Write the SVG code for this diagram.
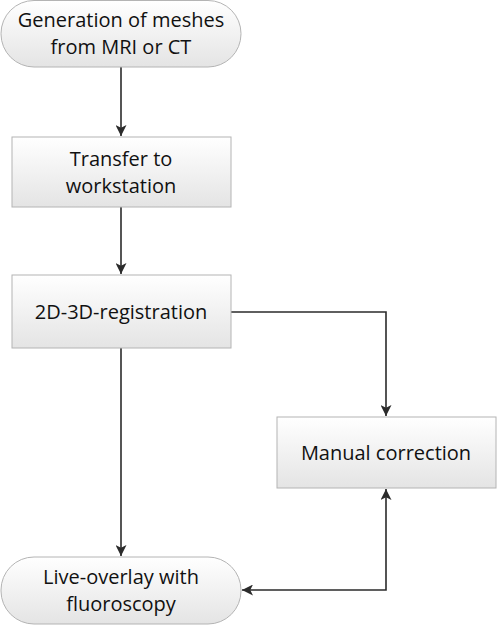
<svg xmlns="http://www.w3.org/2000/svg" width="500" height="627" viewBox="0 0 500 627">
<defs>
<linearGradient id="g" x1="0" y1="0" x2="0" y2="1">
<stop offset="0" stop-color="#ffffff"/>
<stop offset="1" stop-color="#e4e4e4"/>
</linearGradient>
<marker id="ah" markerWidth="11" markerHeight="11" viewBox="0 0 10 10" refX="10" refY="5" orient="auto" markerUnits="userSpaceOnUse">
<path d="M0,0 L10,5 L0,10 L2.5,5 Z" fill="#2b2b2b"/>
</marker>
<marker id="as" markerWidth="11" markerHeight="11" viewBox="0 0 10 10" refX="0" refY="5" orient="auto" markerUnits="userSpaceOnUse">
<path d="M10,0 L0,5 L10,10 L7.5,5 Z" fill="#2b2b2b"/>
</marker>
</defs>
<style>
.n{fill:url(#g);stroke:#b4b4b4;stroke-width:1}
.t{font-family:"Open Sans","Liberation Sans",sans-serif;font-size:20px;fill:#111;text-anchor:middle}
.c{fill:none;stroke:#2b2b2b;stroke-width:1.6}
</style>
<rect width="500" height="627" fill="#fff"/>
<g id="connectors">
<path class="c" d="M121,67 V136" marker-end="url(#ah)"/>
<path class="c" d="M121,207 V274" marker-end="url(#ah)"/>
<path class="c" d="M121,348 V556" marker-end="url(#ah)"/>
<path class="c" d="M231,312 H386 V416" marker-end="url(#ah)"/>
<path class="c" d="M386,489 V590 H242" marker-start="url(#as)" marker-end="url(#ah)"/>
</g>
<g id="n1">
<rect class="n" x="1" y="0.5" width="240" height="66.5" rx="33" ry="33"/>
<text class="t" x="121" y="27">Generation of meshes</text>
<text class="t" x="121" y="54">from MRI or CT</text>
</g>
<g id="n2">
<rect class="n" x="12" y="137" width="219" height="70"/>
<text class="t" x="121" y="166">Transfer to</text>
<text class="t" x="121" y="193">workstation</text>
</g>
<g id="n3">
<rect class="n" x="12" y="275" width="219" height="73"/>
<text class="t" x="121" y="319">2D-3D-registration</text>
</g>
<g id="n4">
<rect class="n" x="277" y="417" width="219" height="71"/>
<text class="t" x="386" y="460">Manual correction</text>
</g>
<g id="n5">
<rect class="n" x="1" y="557" width="240" height="67" rx="33" ry="33"/>
<text class="t" x="121" y="584">Live-overlay with</text>
<text class="t" x="121" y="611">fluoroscopy</text>
</g>
</svg>
